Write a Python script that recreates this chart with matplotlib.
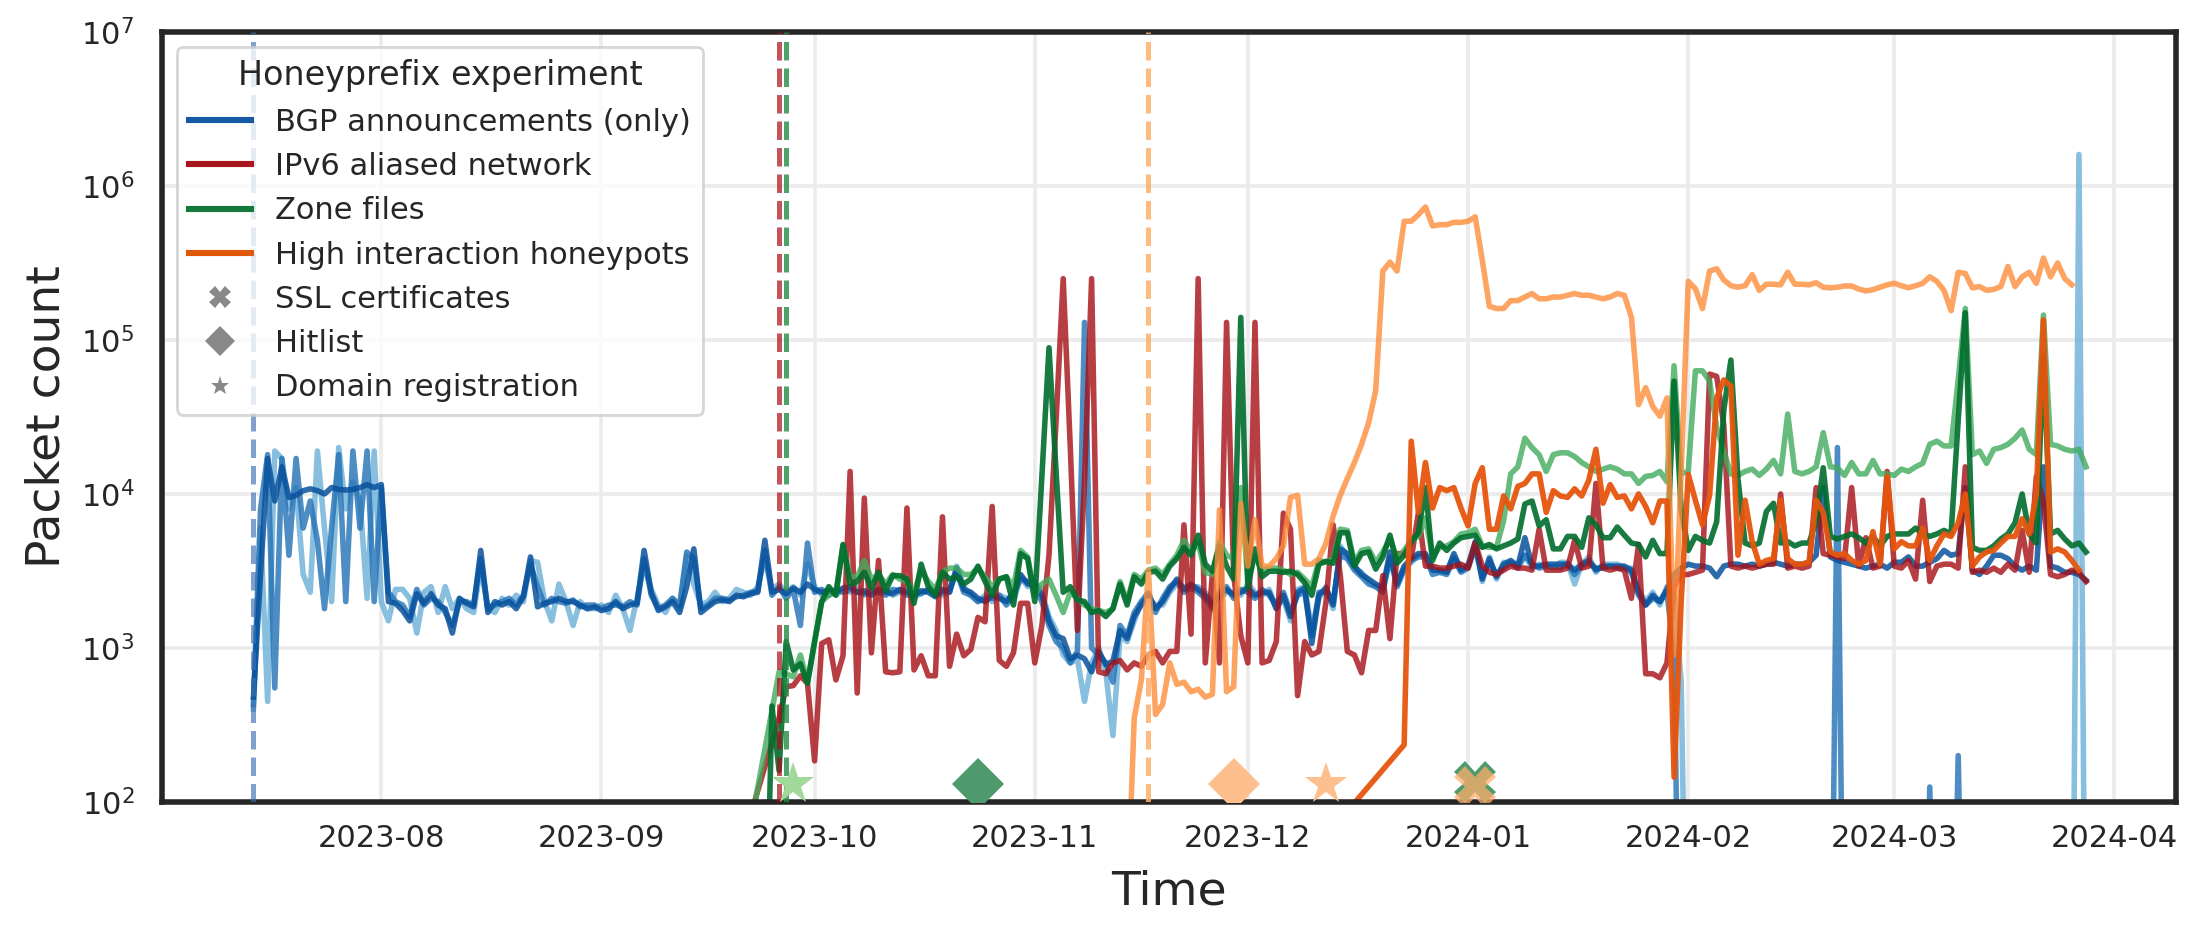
import pandas as pd
import matplotlib
matplotlib.use('Agg')
import matplotlib.pyplot as plt
import matplotlib.dates as mdates
from matplotlib.lines import Line2D

# ---- data (packet counts per day) ----
# BGP announcements (only): three prefixes, daily from 2023-07-14
bgp_start = '2023-07-14'
bgp_a = [
    # Jul 14-31
    480, 3000, 17000, 9000, 15000, 9500, 9800, 10500, 10800, 10500, 10000, 11000, 10700, 10600, 10700, 11000, 11500, 11000,
    # Aug
    11500, 2000, 1950, 1750, 1500, 2250, 1950, 2250, 1900, 1800, 1250, 2100, 1950, 1850, 4300, 1700, 2000, 1900, 2000, 1800,
    2150, 3900, 1850, 1950, 2000, 2100, 2000, 2000, 1900, 1800, 1850,
    # Sep
    1750, 1800, 2000, 1800, 1900, 1950, 4300, 2300, 1750, 1850, 2000, 1700, 2500, 4400, 1700, 1850, 2000, 2050, 2000, 2200,
    2150, 2250, 2300, 5000, 2300, 2400, 2250, 2450, 2300, 2600,
    # Oct
    2400, 2300, 2350, 2300, 2450, 2500, 2300, 2350, 2200, 2400, 2300, 2250, 2400, 2300, 2200, 2350, 2300, 2150, 2400, 2300,
    3300, 2400, 2300, 2100, 2000, 2200, 2100, 2000, 2300, 3000, 2600,
    # Nov
    2600, 2200, 1500, 1200, 1150, 850, 900, 850, 700, 950, 780, 820, 1300, 1150, 1600, 1900, 2200, 1800, 2000, 2400,
    2800, 2400, 2600, 2400, 2200, 1900, 2200, 2400, 2200, 2300,
    # Dec
    2450, 2200, 2300, 2300, 1800, 2200, 1600, 2300, 2450, 1070, 2200, 2450, 1900, 4400, 4100, 3400, 3000, 2800, 2600, 2450,
    4200, 2600, 3400, 3800, 4100, 4100, 3200, 3200, 3100, 4100, 3200,
    # Jan
    3400, 4900, 2800, 3800, 2900, 3500, 3700, 3400, 5200, 3400, 3400, 3500, 3500, 3500, 3500, 3200, 3500, 3700, 3200, 3400,
    3400, 3400, 3400, 3200, 2300, 1900, 2200, 2000, 2400, 3000, 3300,
    # Feb
    3500, 3400, 3400, 3300, 2900, 3400, 3500, 3500, 3400, 3500, 3400, 3500, 3600, 3500, 3400, 3500, 3500, 3600, 4000, 11000,
    3900, 3700, 3600, 3500, 3400, 3300, 3400, 3500, 3300,
    # Mar 1-28
    3600, 3600, 3900, 3400, 3400, 3600, 3800, 4300, 4000, 4100, 11000, 3200, 3000, 3400, 4000, 4000, 3800, 3400, 3200, 3400,
    3200, 15000, 3400, 3300, 3100, 3100, 3000, 2750,
]
bgp_b = [
    430, 8000, 18000, 550, 17000, 4000, 17000, 6000, 9000, 5000, 1800, 6000, 18000, 2000, 19000, 6000, 19000, 2000,
    11000, 2300, 2000, 1900, 1600, 2400, 1900, 2100, 2000, 1700, 1400, 2000, 2000, 1900, 3800, 1800, 1900, 2000, 2100, 1900,
    2200, 3500, 2500, 1900, 2100, 2000, 1950, 2050, 1850, 1900, 1900,
    1800, 1900, 1900, 1850, 2000, 1900, 3800, 2200, 1800, 1900, 2100, 1900, 4200, 3800, 1800, 1900, 2100, 2100, 2050, 2150,
    2200, 2300, 2350, 4300, 2200, 2500, 2100, 2400, 1400, 4800,
    2300, 2400, 2200, 2400, 2300, 2400, 2300, 2250, 2300, 2300, 2200, 2400, 2350, 2200, 2300, 2250, 2400, 2200, 2300, 2400,
    3100, 2300, 2200, 2000, 2100, 2100, 2200, 1900, 2200, 2800, 2700,
    2500, 2000, 1400, 1100, 1000, 800, 950, 130000, 1000, 900, 800, 600, 1400, 1200, 1700, 2000, 2300, 1700, 2100, 2500,
    2700, 2300, 2500, 2300, 2100, 1800, 2300, 2500, 2100, 2400,
    2300, 2100, 2400, 2200, 1900, 2300, 1700, 2200, 2300, 1200, 2300, 2300, 2000, 4000, 3800, 3200, 2900, 2600, 2500, 2300,
    3900, 2500, 3200, 3700, 3900, 3900, 3000, 3100, 3000, 3800, 3100,
    3300, 4500, 2900, 3600, 3000, 3300, 3600, 3300, 4000, 3500, 3300, 3400, 3400, 3300, 3500, 3000, 3400, 3600, 3300, 3300,
    3400, 3300, 3300, 3100, 2200, 1900, 2100, 2000, 2300, 900, 1,
]
bgp_b_late_dates = ['2024-02-21', '2024-02-22', '2024-02-23', '2024-03-05', '2024-03-06', '2024-03-07',
                    '2024-03-09', '2024-03-10', '2024-03-11', '2024-03-28']
bgp_b_late = [1, 20000, 1, 1, 125, 1, 1, 200, 1, 1]
bgp_c = [
    400, 6000, 450, 19000, 17000, 8000, 11000, 3000, 2300, 19000, 6000, 2000, 20000, 8000, 12000, 9000, 2100, 19000,
    2000, 1500, 2400, 2400, 2100, 1250, 2300, 2500, 1700, 2500, 1800, 2100, 1800, 1700, 3400, 1800, 1700, 2100, 1900, 2200,
    2000, 3700, 3600, 2000, 1500, 2600, 2000, 1400, 2000, 1800, 1800,
    1900, 1700, 2200, 1800, 1300, 2100, 3500, 2400, 1900, 1700, 2100, 1800, 4000, 2600, 1900, 2000, 2300, 2000, 2100, 2400,
    2300, 2200, 2500, 3800, 2400, 2600, 2300, 2500, 2200, 3500,
    2500, 2200, 2400, 2200, 2400, 2300, 2500, 2200, 2400, 2300, 2400, 2200, 2300, 2400, 2100, 2300, 2400, 2300, 2200, 2300,
    3400, 2500, 2200, 2000, 2200, 2000, 2200, 2100, 2000, 2900, 2500,
    2700, 2300, 1600, 1300, 900, 800, 850, 450, 800, 1000, 700, 270, 1200, 1100, 1500, 2000, 2100, 1900, 1900, 2300,
    2600, 2500, 2400, 2500, 2300, 2000, 2100, 2300, 2300, 2200,
    2600, 2300, 2200, 2400, 1800, 2100, 1500, 2400, 2500, 1300, 2100, 2500, 1800, 4600, 3900, 3300, 3100, 2700, 2500, 2400,
    3700, 2700, 3300, 3600, 4000, 4000, 3300, 3100, 3200, 3900, 3300,
    3500, 4600, 2700, 3900, 2800, 3600, 3500, 3500, 4000, 3300, 3500, 3400, 3300, 3600, 3600, 2600, 3500, 3900, 3100, 3500,
    3500, 3500, 3300, 3300, 2400, 2000, 2300, 1900, 2500, 2200, 600,
]
bgp_c_late_dates = ['2024-02-01', '2024-03-26', '2024-03-27', '2024-03-28']
bgp_c_late = [1, 1, 1600000, 1]

# IPv6 aliased network
alias_pre_dates = ['2023-09-20']
alias_pre = [40]
alias_start = '2023-09-26'
alias = [
    350, 560, 570, 660, 590,
    185, 1070, 1130, 620, 890, 14000, 510, 9400, 930, 3700, 700, 690, 700, 8100, 720, 890, 660, 660, 7100, 760,
    1230, 890, 980, 1580, 1480, 8300, 830, 760, 930, 1950, 1950,
    800, 1400, 4000, 30000, 250000, 20000, 1300, 12000, 250000, 700, 680, 800, 830, 720, 800, 760, 900, 950, 800, 950,
    950, 6300, 1230, 250000, 800, 3000, 800, 130000, 3000, 1200,
    800, 130000, 800, 830, 1100, 7500, 5900, 490, 1100, 900, 950, 2000, 6300, 3000, 950, 900, 690, 1300, 1300, 2950,
    1150, 4100, 4100, 3800, 7500, 3400, 3400, 3300, 3300, 3400, 3500,
    3300, 4800, 3400, 3100, 3000, 3200, 3400, 3300, 3300, 3200, 5900, 3200, 3200, 3200, 3300, 5000, 3300, 3400, 11700, 3300,
    3200, 3300, 3200, 2100, 4700, 680, 680, 640, 800, 2500, 3000,
    3000, 3100, 3200, 60000, 58000, 28000, 3400, 3300, 3400, 3300, 3400, 3500, 3500, 10000, 3300, 3400, 3300, 3400, 11000, 4100,
    4000, 3900, 3800, 11000, 3400, 5200, 3300, 3400, 14000,
    3400, 3300, 3700, 2800, 9100, 2700, 3400, 3500, 3500, 3300, 15000, 3100, 3200, 3100, 3300, 3100, 3500, 3200, 5800, 3100,
    13000, 9000, 3000, 2900, 3000, 3200, 3100, 2700,
]

# Zone files: two prefixes
zone_a_pre_dates = ['2023-09-24']
zone_a_pre = [5]
zone_a_start = '2023-09-25'
zone_a = [
    420, 160, 1100, 720, 790, 590,
    1100, 2000, 2500, 2200, 4700, 2600, 2700, 3100, 2450, 3100, 2350, 2950, 2950, 2800, 1950, 3500, 2500, 2200, 3100, 2800,
    2900, 2600, 2800, 3400, 2700, 2200, 2800, 2900, 1900, 4100, 3800,
    2000, 13000, 89000, 14000, 2300, 2500, 2050, 2000, 1700, 1750, 1600, 1800, 2600, 1900, 2900, 2600, 3100, 3150, 2800, 3400,
    3800, 4500, 4000, 5400, 3500, 3150, 4600, 3400, 2800, 140000,
    2450, 4400, 2900, 3150, 3150, 3100, 3150, 3000, 2650, 2200, 3500, 3650, 3550, 5600, 5600, 3400, 4100, 4200, 3250, 3900,
    5400, 3550, 4000, 4900, 5600, 11000, 3700, 4800, 4300, 4800, 5200,
    5300, 5400, 4500, 4700, 4400, 4600, 4800, 5100, 8600, 9000, 6200, 6800, 4400, 4400, 5300, 5300, 4500, 7000, 6300, 5200,
    5200, 6100, 5400, 4800, 4700, 3900, 5000, 4100, 4100, 54000, 8000,
    4300, 5300, 5000, 4800, 6600, 35000, 74000, 12500, 4800, 4600, 4800, 7700, 8700, 4800, 4900, 4600, 4800, 4800, 6700, 14800,
    5300, 5100, 5300, 5500, 5200, 4800, 5300, 4600, 5300,
    5500, 5500, 5500, 6000, 5500, 5300, 5500, 5800, 5500, 30000, 150000, 4500, 4300, 4300, 4600, 5100, 5500, 6500, 10000, 5500,
    4800, 80000, 5500, 5800, 5100, 4600, 4800, 4200,
]
zone_b_pre_dates = ['2023-09-20']
zone_b_pre = [22]
zone_b_start = '2023-09-26'
zone_b = [
    700, 680, 650, 900, 600,
    1100, 2000, 2200, 2300, 4600, 2900, 2900, 3700, 2800, 3000, 2600, 3000, 2800, 2700, 2300, 3200, 2700, 2400, 3100, 3300,
    3300, 3000, 3000, 3300, 2900, 2500, 2800, 2900, 2500, 4300, 3900,
    2200, 2600, 2800, 2200, 1700, 2300, 2100, 1900, 1800, 1750, 1700, 1800, 2700, 2000, 3000, 2800, 3200, 3300, 3000, 3500,
    4000, 5000, 4200, 4800, 3100, 3000, 4900, 4000, 3800, 11000,
    2700, 4000, 3200, 3300, 3300, 3200, 3000, 3100, 2800, 2500, 3700, 3600, 3800, 5900, 5800, 3600, 4300, 4400, 3600, 4200,
    5100, 3800, 4300, 5000, 5300, 7000, 3900, 4500, 4600, 4900, 5500,
    5600, 5900, 4600, 4500, 4500, 6700, 13500, 15000, 23000, 20000, 18000, 14000, 18000, 18500, 18500, 17500, 16000, 15000,
    14000, 14500, 15000, 14500, 13500, 13500, 11700, 13000, 13200, 14000, 12000, 68000, 13500,
    14000, 63000, 63000, 54000, 27000, 19000, 13500, 13200, 14000, 14500, 13200, 14500, 16500, 13500, 33000, 14000, 13500,
    14000, 15000, 25000, 15000, 14800, 13200, 16000, 13500, 13500, 16500, 13500, 13500,
    13200, 14500, 14000, 15000, 15800, 21000, 22000, 20500, 20500, 55000, 160000, 18000, 19000, 15800, 19500, 20000, 21000,
    23000, 26000, 19500, 18000, 145000, 21000, 20500, 19500, 19000, 19500, 15000,
]

# High interaction honeypots: two prefixes
hi_a_pre_dates = ['2023-11-14']
hi_a_pre = [20]
hi_a_start = '2023-11-15'
hi_a = [
    350, 620, 3200, 370, 430, 800, 580, 600, 520, 540, 480, 500, 7900, 520, 560, 8700,
    3400, 6800, 3400, 3400, 3800, 4600, 9500, 9800, 3500, 3500, 3800, 4800, 7200, 9800, 12600, 16000, 21000, 29000, 47000,
    280000, 320000, 280000, 590000, 590000, 650000, 730000, 550000, 560000, 560000, 580000, 580000,
    590000, 630000, 330000, 165000, 160000, 160000, 180000, 180000, 190000, 200000, 185000, 185000, 190000, 190000, 195000,
    200000, 195000, 195000, 190000, 185000, 190000, 200000, 195000, 140000, 38000, 49000, 37000, 32000, 42000, 900, 14000,
    240000, 215000, 160000, 280000, 290000, 245000, 225000, 220000, 225000, 265000, 210000, 230000, 230000, 228000, 275000,
    230000, 230000, 228000, 235000, 220000, 218000, 220000, 224000, 224000, 214000, 208000, 212000, 220000, 228000,
    233000, 225000, 218000, 225000, 233000, 257000, 240000, 210000, 155000, 275000, 270000, 218000, 222000, 210000, 213000,
    222000, 300000, 222000, 257000, 275000, 233000, 340000, 257000, 316000, 250000, 228000,
]
hi_b_pre_dates = ['2023-12-12', '2023-12-23']
hi_b_pre = [60, 235]
hi_b_start = '2023-12-24'
hi_b = [
    22000, 7600, 16000, 8100, 11000, 10500, 11000, 8100,
    6200, 11700, 14800, 5900, 5900, 9700, 8000, 11200, 11700, 13500, 13500, 7600, 10500, 9700, 9500, 10800, 9700, 12300,
    19500, 8700, 11500, 9500, 9700, 8000, 10000, 8300, 6500, 9000, 9000, 145, 2000,
    13400, 9100, 6300, 9800, 42000, 55000, 50000, 4000, 9100, 4900, 3500, 3700, 3800, 9100, 3800, 3500, 3500, 3600, 9100,
    7600, 4200, 4000, 4100, 3700, 3500, 3700, 5700, 3500, 13000,
    4400, 4900, 4600, 4600, 6000, 3700, 4600, 5500, 5300, 6500, 10000, 3400, 3900, 4200, 4300, 4800, 5300, 5300, 6900, 5500,
    10000, 135000, 4200, 4400, 4200, 3700, 3200,
]

# experiment start dates (dashed lines)
start_dates = ['2023-07-14', '2023-09-26', '2023-09-27', '2023-11-17']
# leak events: SSL certificates (X), hitlist (D), domain registration (*)
event_dates = ['2023-09-28', '2023-10-24', '2023-11-29', '2023-12-12', '2024-01-02', '2024-01-02']
event_kind = ['*', 'D', 'D', '*', 'X', 'X']


def series(start, vals, pre_dates=(), pre_vals=(), late_dates=(), late_vals=()):
    d = pd.date_range(start, periods=len(vals), freq='D')
    s = pd.Series(vals, index=d, dtype=float)
    if len(pre_dates):
        s = pd.concat([pd.Series(pre_vals, index=pd.to_datetime(pre_dates), dtype=float), s])
    if len(late_dates):
        s = pd.concat([s, pd.Series(late_vals, index=pd.to_datetime(late_dates), dtype=float)])
    return s


TXT = '#262626'
plt.rcParams['font.family'] = 'DejaVu Sans'
plt.rcParams['text.color'] = TXT
plt.rcParams['axes.labelcolor'] = TXT
plt.rcParams['xtick.color'] = TXT
plt.rcParams['ytick.color'] = TXT

fig = plt.figure(figsize=(10.99, 4.69), dpi=200)
ax = fig.add_axes([0.0737, 0.145, 0.9163, 0.821])

LW = 2.0
lines = [
    (series(bgp_start, bgp_c, late_dates=bgp_c_late_dates, late_vals=bgp_c_late), '#6baed6', 0.8),
    (series(bgp_start, bgp_b, late_dates=bgp_b_late_dates, late_vals=bgp_b_late), '#2171b5', 0.8),
    (series(bgp_start, bgp_a), '#08519c', 0.85),
    (series(alias_start, alias, alias_pre_dates, alias_pre), '#a50f15', 0.8),
    (series(zone_b_start, zone_b, zone_b_pre_dates, zone_b_pre), '#41ab5d', 0.8),
    (series(zone_a_start, zone_a, zone_a_pre_dates, zone_a_pre), '#006d2c', 0.9),
    (series(hi_a_start, hi_a, hi_a_pre_dates, hi_a_pre), '#fd8d3c', 0.8),
    (series(hi_b_start, hi_b, hi_b_pre_dates, hi_b_pre), '#e6550d', 0.95),
]
for s, c, a in lines:
    ax.plot(s.index, s.values, color=c, alpha=a, lw=LW, zorder=2)

start_colors = ['#3a6fb0', '#a50f15', '#238b45', '#fdae6b']
start_alpha = [0.65, 0.7, 0.8, 0.85]
for d, c, a in zip(start_dates, start_colors, start_alpha):
    ax.axvline(pd.Timestamp(d), color=c, alpha=a, ls='--', lw=1.8, zorder=3)

MARK_Y = [130, 130, 130, 130, 134, 126]
mark_colors = ['#a1d99b', '#4e9a6c', '#fdbf8d', '#fdbf8d', '#4e9a6c', '#fdae6b']
mark_alpha = [1, 1, 1, 1, 1, 0.75]
mark_size = {'*': 16, 'D': 13, 'X': 15}
for d, k, y, c, a in zip(event_dates, event_kind, MARK_Y, mark_colors, mark_alpha):
    ax.plot([pd.Timestamp(d)], [y], marker=k, ms=mark_size[k], color=c, alpha=a, mew=0, ls='none', zorder=4)

ax.set_yscale('log')
ax.set_ylim(1e2, 1e7)
ax.set_xlim(pd.Timestamp('2023-07-01 03:00'), pd.Timestamp('2024-04-09 16:00'))
ax.xaxis.set_major_locator(mdates.MonthLocator())
ax.xaxis.set_major_formatter(mdates.DateFormatter('%Y-%m'))
ax.tick_params(which='both', length=0, labelsize=11)
ax.tick_params(axis='x', pad=8)
ax.tick_params(axis='y', pad=10)
ax.grid(True, which='major', color='#ebebeb', lw=1.3)
ax.set_axisbelow(True)
for sp in ax.spines.values():
    sp.set_color(TXT)
    sp.set_linewidth(2.0)

ax.set_xlabel('Time', fontsize=17, labelpad=6)
ax.set_ylabel('Packet count', fontsize=17, labelpad=4)

gray = '#888888'
handles = [
    Line2D([], [], color='#155aa5', lw=2.2),
    Line2D([], [], color='#a8161e', lw=2.2),
    Line2D([], [], color='#137a3a', lw=2.2),
    Line2D([], [], color='#e0580c', lw=2.2),
    Line2D([], [], ls='none', marker='X', ms=7.7, color=gray, mew=0),
    Line2D([], [], ls='none', marker='D', ms=7.5, color=gray, mew=0),
    Line2D([], [], ls='none', marker='*', ms=7, color=gray, mew=0),
]
labels = ['BGP announcements (only)', 'IPv6 aliased network', 'Zone files', 'High interaction honeypots',
          'SSL certificates', 'Hitlist', 'Domain registration']
leg = ax.legend(handles, labels, loc='upper left', title='Honeyprefix experiment', fontsize=11,
                title_fontsize=12, framealpha=0.8, edgecolor='#cccccc', fancybox=True)
leg.set_zorder(5)

fig.savefig('out.png', dpi=200)
